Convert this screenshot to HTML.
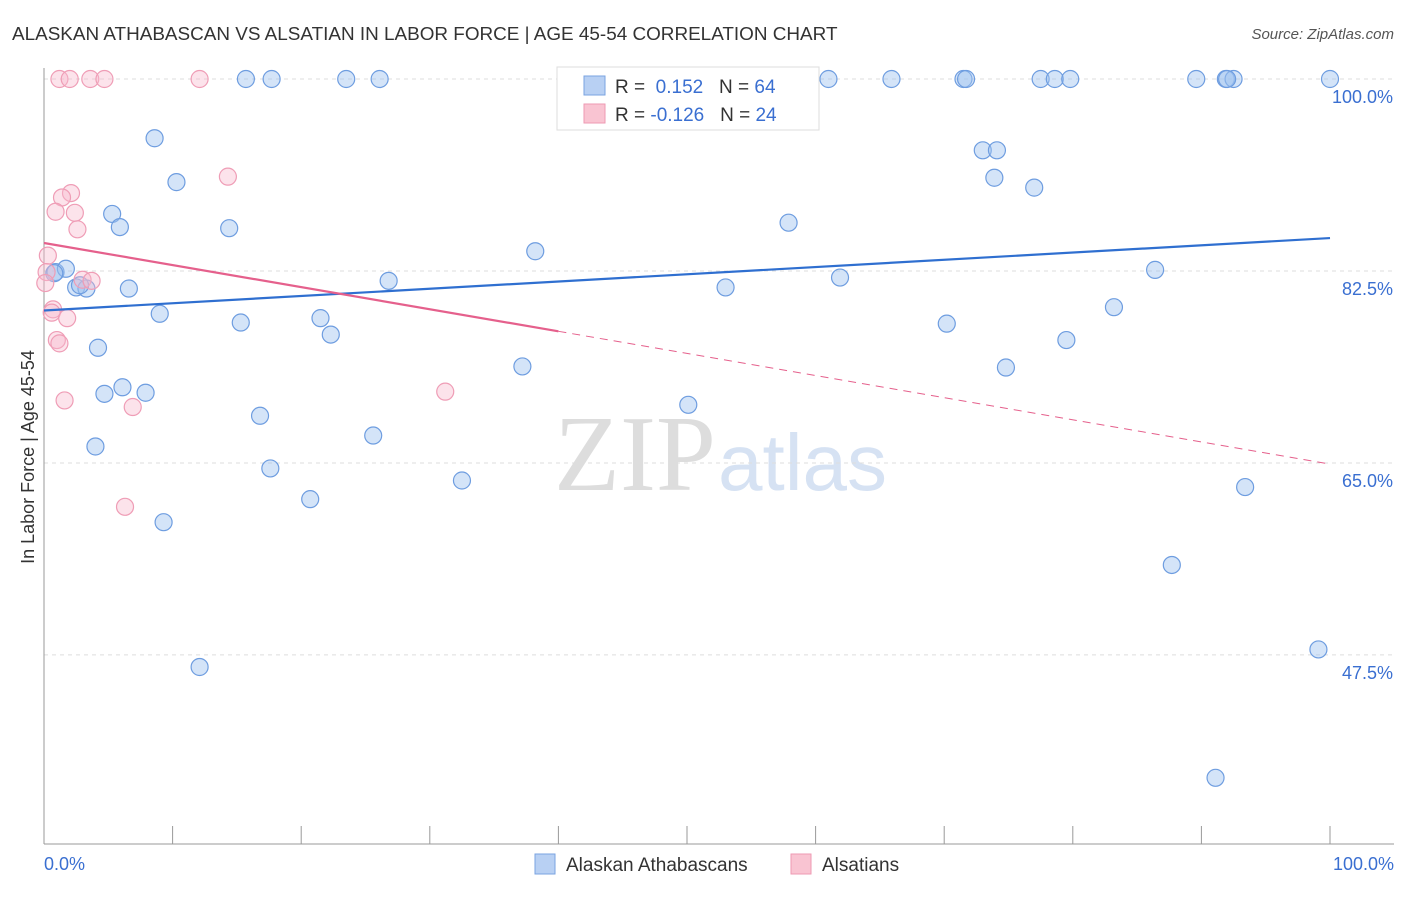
<!DOCTYPE html>
<html><head><meta charset="utf-8"><style>
body{margin:0;background:#fff;font-family:"Liberation Sans",sans-serif}
</style></head><body>
<svg width="1406" height="892" xmlns="http://www.w3.org/2000/svg">
<text x="12" y="40" font-size="18.9" fill="#333">ALASKAN ATHABASCAN VS ALSATIAN IN LABOR FORCE | AGE 45-54 CORRELATION CHART</text>
<text x="1394" y="39" font-size="15" fill="#555" font-style="italic" text-anchor="end">Source: ZipAtlas.com</text>
<text x="716" y="490" font-size="108" fill="#ddd" font-family="Liberation Serif" text-anchor="end">ZIP</text>
<text x="718" y="490" font-size="80" fill="#d6e2f3">atlas</text>
<g id="grid"></g><g id="axes"></g><g id="marks"></g>
<text transform="translate(34,457) rotate(-90)" font-size="18" fill="#333" text-anchor="middle">In Labor Force | Age 45-54</text>
<text x="44" y="870" font-size="18" fill="#3a6fd1">0.0%</text>
<text x="1394" y="870" font-size="18" fill="#3a6fd1" text-anchor="end">100.0%</text>
<g>
<rect x="557" y="67" width="262" height="63" fill="#fff" stroke="#ddd"/>
<rect x="584" y="76" width="21" height="19" fill="#b8d0f3" stroke="#7aa3e0"/>
<rect x="584" y="104" width="21" height="19" fill="#f9c4d2" stroke="#ee9ab3"/>
<text x="615" y="93" font-size="19" fill="#333">R = <tspan fill="#3a6fd1">&#160;0.152</tspan>&#160;&#160;&#160;N = <tspan fill="#3a6fd1">64</tspan></text>
<text x="615" y="121" font-size="19" fill="#333">R = <tspan fill="#3a6fd1">-0.126</tspan>&#160;&#160;&#160;N = <tspan fill="#3a6fd1">24</tspan></text>
</g>
<g>
<rect x="535" y="854" width="20" height="20" fill="#b8d0f3" stroke="#7aa3e0"/>
<text x="566" y="871" font-size="19" fill="#333">Alaskan Athabascans</text>
<rect x="791" y="854" width="20" height="20" fill="#f9c4d2" stroke="#ee9ab3"/>
<text x="822" y="871" font-size="19" fill="#333">Alsatians</text>
</g>
</svg>
<script>
const yTicks=[100,82.5,65,47.5];
const yTickLabels=["100.0%","82.5%","65.0%","47.5%"];
const xTicks=[0,10,20,30,40,50,60,70,80,90,100];
const blueX=[8.6,10.3,15.7,17.7,23.5,26.1,61.0,65.9,71.5,71.7,77.5,78.6,79.8,89.6,91.9,92.5,100,73.0,74.1,73.9,77.0,5.3,5.9,14.4,57.9,38.2,0.9,1.7,2.5,3.3,6.6,26.8,53.0,61.9,86.4,9.0,15.3,21.5,22.3,70.2,83.2,4.2,79.5,37.2,74.8,4.7,6.1,7.9,50.1,16.8,25.6,4.0,17.6,32.5,93.4,20.7,9.3,87.7,99.1,12.1,91.1,0.8,2.8,92.0];
const blueY=[94.6,90.6,100,100,100,100,100,100,100,100,100,100,100,100,100,100,100,93.5,93.5,91.0,90.1,87.7,86.5,86.4,86.9,84.3,82.4,82.7,81.0,80.9,80.9,81.6,81.0,81.9,82.6,78.6,77.8,78.2,76.7,77.7,79.2,75.5,76.2,73.8,73.7,71.3,71.9,71.4,70.3,69.3,67.5,66.5,64.5,63.4,62.8,61.7,59.6,55.7,48.0,46.4,36.3,82.3,81.2,100];
const pinkX=[1.2,2.0,3.6,4.7,12.1,14.3,2.1,1.4,0.9,2.4,2.6,0.3,0.2,0.1,3.0,3.7,0.7,0.6,1.8,1.0,1.2,1.6,6.9,31.2,6.3];
const pinkY=[100,100,100,100,100,91.1,89.6,89.2,87.9,87.8,86.3,83.9,82.4,81.4,81.7,81.6,79.0,78.7,78.2,76.2,75.9,70.7,70.1,71.5,61.0];
const blueTrend=[[0,78.9],[100,85.5]];
const pinkTrend=[[0,85.05],[40,77.0],[100,64.9]];
const X=v=>44+v*12.86, Y=v=>79+(100-v)*10.97;
const NS="http://www.w3.org/2000/svg";
function mk(parent,tag,attrs){const e=document.createElementNS(NS,tag);for(const k in attrs)e.setAttribute(k,attrs[k]);document.getElementById(parent).appendChild(e);return e;}
yTicks.forEach((t,i)=>{
 const g=mk('grid','line',{x1:44,x2:1394,y1:Y(t),y2:Y(t),stroke:'#ddd','stroke-dasharray':'4 4'});
 
 
 const l=mk('grid','text',{x:1393,y:Y(t)+24,'font-size':18,fill:'#3a6fd1','text-anchor':'end'});
 l.textContent=yTickLabels[i];
 
 
});
const ya=mk('axes','line',{x1:44,x2:44,y1:68,y2:844,stroke:'#999'});


const xa=mk('axes','line',{x1:44,x2:1394,y1:844,y2:844,stroke:'#999'});


xTicks.forEach(t=>{
 const k=mk('axes','line',{x1:X(t),x2:X(t),y1:826,y2:844,stroke:'#999'});
 
 
});
blueX.forEach((x,i)=>{
 const c=mk('marks','circle',{cx:X(x),cy:Y(blueY[i]),r:8.5,fill:'rgba(160,195,240,0.45)',stroke:'#6e9de0','stroke-width':1.2});
 
 
});
pinkX.forEach((x,i)=>{
 const c=mk('marks','circle',{cx:X(x),cy:Y(pinkY[i]),r:8.5,fill:'rgba(248,185,205,0.4)',stroke:'#ef9db6','stroke-width':1.2});
 
 
});
const bt=mk('marks','line',{x1:X(blueTrend[0][0]),y1:Y(blueTrend[0][1]),x2:X(blueTrend[1][0]),y2:Y(blueTrend[1][1]),stroke:'#2f6fd0','stroke-width':2.2});


const pt=mk('marks','line',{x1:X(pinkTrend[0][0]),y1:Y(pinkTrend[0][1]),x2:X(pinkTrend[1][0]),y2:Y(pinkTrend[1][1]),stroke:'#e5608c','stroke-width':2.2});


const pd=mk('marks','line',{x1:X(pinkTrend[1][0]),y1:Y(pinkTrend[1][1]),x2:X(pinkTrend[2][0]),y2:Y(pinkTrend[2][1]),stroke:'#e5608c','stroke-width':1,'stroke-dasharray':'8 6'});


</script>
</body></html>
